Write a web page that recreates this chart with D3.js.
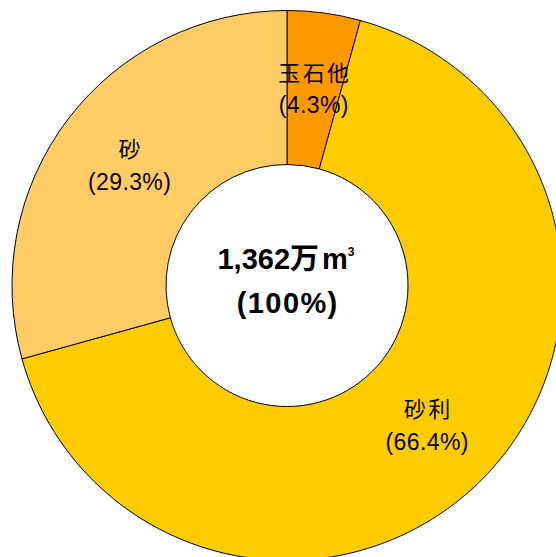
<!DOCTYPE html>
<html><head><meta charset="utf-8">
<script src="https://cdn.jsdelivr.net/npm/d3@7"></script>
<style>body{margin:0;background:#fff;}svg{display:block;}</style>
</head><body>
<svg id="c" width="556" height="557"></svg>
<script>
const categories = ["玉石他", "砂利", "砂"];
const values = [4.3, 66.4, 29.3];
const percentLabels = ["(4.3%)", "(66.4%)", "(29.3%)"];
const colors = ["#FF9900", "#FFCC00", "#FFCC66"];
const totalNumber = "1,362";
const totalUnit = "万";
const totalVolume = "m";
const totalPercent = "(100%)";

const svg = d3.select("#c");
const cx = 287, cy = 285.5, R = 275, r = 121;
const g = svg.append("g").attr("transform", `translate(${cx},${cy})`);
const pie = d3.pie().sort(null).value(d => d)(values);
const arc = d3.arc().innerRadius(r).outerRadius(R);
g.selectAll("path").data(pie).join("path")
  .attr("d", arc)
  .attr("fill", (d, i) => colors[i])
  .attr("stroke", "#000").attr("stroke-width", 1);

const font = "'Liberation Sans', Arial, 'Noto Sans CJK JP', sans-serif";
const lab = g.selectAll("g.lab").data(pie).join("g").attr("class", "lab")
  .attr("transform", d => `translate(${arc.centroid(d)})`);
lab.append("text").attr("x", 1.2).attr("y", -16).attr("dy", "0.35em").attr("text-anchor", "middle")
  .attr("font-family", font).attr("font-size", 22).attr("letter-spacing", 2.4).attr("fill", "#000")
  .text((d, i) => categories[i]);
lab.append("text").attr("x", 0.2).attr("y", 16).attr("dy", "0.35em").attr("text-anchor", "middle")
  .attr("font-family", font).attr("font-size", 23).attr("letter-spacing", 0.4).attr("fill", "#000")
  .text((d, i) => percentLabels[i]);

const t1 = g.append("text").attr("x", -1).attr("y", -22).attr("dy", "0.35em").attr("text-anchor", "middle")
  .attr("font-family", font).attr("font-weight", "bold").attr("fill", "#000");
t1.append("tspan").attr("font-size", 29).text(totalNumber);
t1.append("tspan").attr("font-size", 29).attr("dx", 0).text(totalUnit);
t1.append("tspan").attr("font-size", 29).attr("dx", 3).text(totalVolume);
t1.append("tspan").attr("font-size", 12).attr("dx", 0).attr("dy", "-1.1em").text("3");
g.append("text").attr("x", 0.7).attr("y", 17).attr("dy", "0.35em").attr("text-anchor", "middle")
  .attr("font-family", font).attr("font-size", 29).attr("font-weight", "bold").attr("letter-spacing", 1.4).attr("fill", "#000")
  .text(totalPercent);
</script>
</body></html>
